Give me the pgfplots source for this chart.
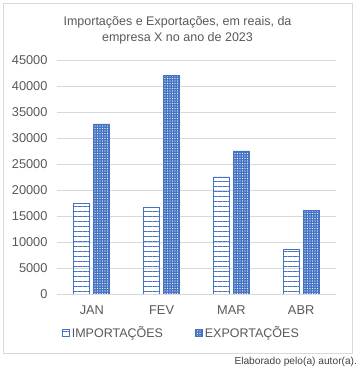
\documentclass[border=0pt]{standalone}
\usepackage{fontspec}
\setmainfont{Liberation Sans}
\usepackage{pgfplots}
\pgfplotsset{compat=1.18}
\usetikzlibrary{patterns.meta}
\definecolor{barblue}{HTML}{4472C4}
\definecolor{txtgray}{HTML}{595959}
\definecolor{gridgray}{HTML}{D9D9D9}
\definecolor{notegray}{HTML}{404040}
\pgfplotsset{sqlegend/.style={legend image code/.code={\draw[##1] (0bp,-3.5bp) rectangle (7bp,3.5bp);}}}
\begin{document}
\begin{tikzpicture}[x=1bp,y=1bp]
\useasboundingbox (0,0) rectangle (362,371);
\draw[gridgray, line width=0.75bp, fill=white] (3.5,17.5) rectangle (352,368);
\node[txtgray, align=center, font=\fontsize{12.5bp}{16bp}\selectfont] at (177.5,341) {Importações e Exportações, em reais, da\\empresa X no ano de 2023};
\begin{axis}[
  at={(57bp,77bp)}, anchor=south west,
  width=279bp, height=234bp, scale only axis,
  ymin=0, ymax=45000, ytick={0,5000,...,45000},
  xmin=-0.5, xmax=3.5, xtick={0,1,2,3}, xticklabels={JAN,FEV,MAR,ABR},
  axis line style={draw=none}, tick style={draw=none},
  ymajorgrids, major grid style={gridgray, line width=0.75bp},
  ybar=4bp, bar width=16bp,
  scaled y ticks=false,
  /pgf/number format/assume math mode=true,
  /pgf/number format/1000 sep={},
  ticklabel style={font=\fontsize{12.8bp}{15bp}\selectfont, text=txtgray},
  yticklabel style={xshift=-6bp},
  xticklabel style={yshift=-4bp},
  legend style={at={(0.446,0)}, anchor=center, yshift=-39bp, draw=none, fill=none,
    font=\fontsize{12.5bp}{15bp}\selectfont, text=txtgray, inner sep=0pt,
    /tikz/every even column/.append style={column sep=30bp}},
  legend columns=2,
]
\addplot[draw=barblue, line width=0.8bp,
  postaction={pattern={Lines[angle=0, distance=5bp, line width=0.8bp]}, pattern color=barblue},
  sqlegend]
  coordinates {(0,17500) (1,16600) (2,22500) (3,8600)};
\addplot[draw=barblue, fill=barblue, line width=0.8bp,
  postaction={pattern={Dots[distance=2.5bp, radius=0.55bp]}, pattern color=white},
  sqlegend]
  coordinates {(0,32700) (1,42000) (2,27500) (3,16000)};
\legend{IMPORTAÇÕES, EXPORTAÇÕES}
\end{axis}
\node[anchor=east, font=\fontsize{10.2bp}{12bp}\selectfont, text=notegray] at (360.5,9) {Elaborado pelo(a) autor(a).};
\end{tikzpicture}
\end{document}
